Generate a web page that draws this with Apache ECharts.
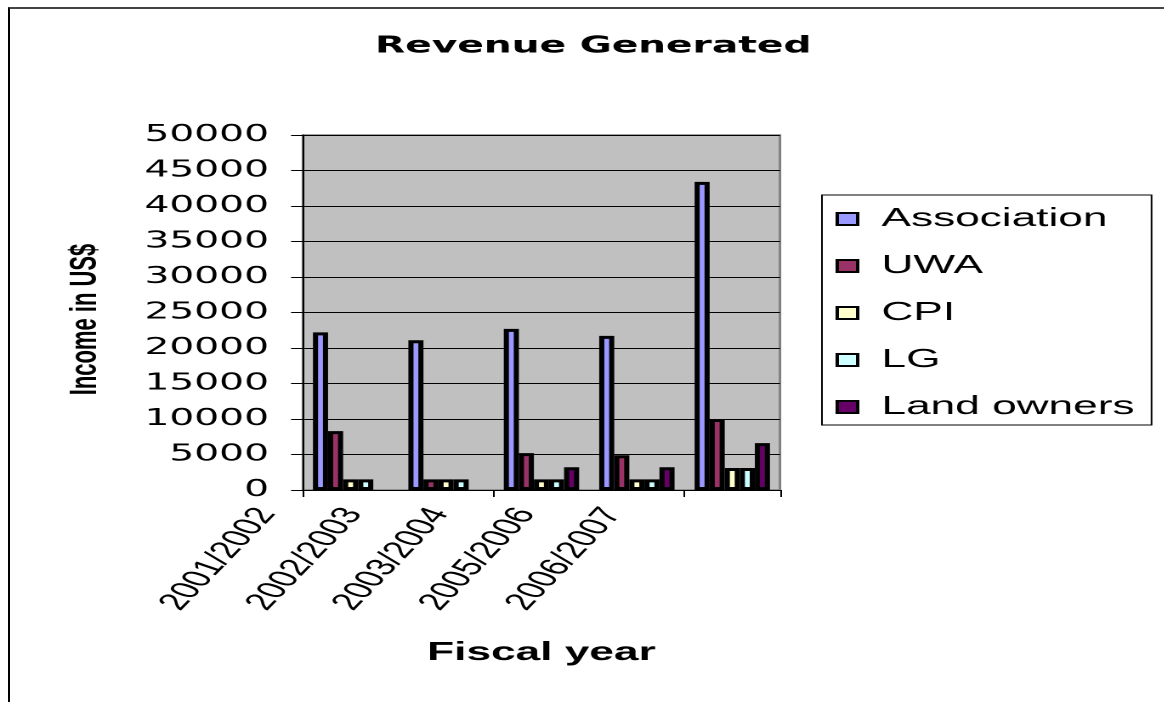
<!DOCTYPE html>
<html>
<head>
<meta charset="utf-8">
<script src="https://cdn.jsdelivr.net/npm/echarts@6/dist/echarts.min.js"></script>
<style>
  html, body { margin: 0; padding: 0; background: #fff; overflow: hidden; }
  #frame { position: absolute; left: 8px; top: 7px; width: 1200px; height: 800px;
           border-left: 2px solid #000; border-top: 2px solid #444; }
  /* the source picture is stretched sideways, so the chart is drawn narrow and widened */
  #main { position: absolute; left: 0; top: 0; width: 684.7px; height: 702px;
          transform: scaleX(1.7); transform-origin: 0 0; }
</style>
</head>
<body>
<div id="frame"></div>
<div id="main"></div>
<script>
var categories = ['2001/2002', '2002/2003', '2003/2004', '2005/2006', '2006/2007'];
var seriesNames = ['Association', 'UWA', 'CPI', 'LG', 'Land owners'];
var association = [22200, 21100, 22700, 21700, 43400];
var uwa = [8300, 1500, 5200, 4900, 10000];
var cpi = [1500, 1500, 1500, 1500, 3100];
var lg = [1500, 1500, 1500, 1500, 3100];
var landOwners = [null, null, 3200, 3200, 6600];
var yMin = 0, yMax = 50000, yStep = 5000;

var colors = ['#9999ff', '#993366', '#ffffcc', '#ccffff', '#660066'];
var values = [association, uwa, cpi, lg, landOwners];

var myChart = echarts.init(document.getElementById('main'), null, { devicePixelRatio: 2 });

myChart.setOption({
  backgroundColor: 'transparent',
  animation: false,
  title: {
    text: 'Revenue Generated',
    left: 349,
    top: 35,
    padding: 0,
    textAlign: 'center',
    textStyle: { fontFamily: 'DejaVu Sans', fontWeight: 'bold', fontSize: 23, color: '#000' }
  },
  legend: {
    orient: 'vertical',
    left: 483.5,
    top: 195,
    padding: [11, 10, 5, 8],
    itemWidth: 12,
    itemHeight: 12,
    itemGap: 21,
    borderColor: '#000',
    borderWidth: 1,
    icon: 'rect',
    textStyle: { fontFamily: 'Liberation Sans', fontSize: 26, color: '#000', padding: [0, 0, 0, 9] },
    data: seriesNames
  },
  grid: [
    { left: 178.2, width: 280.6, top: 135, height: 355, show: true,
      backgroundColor: '#c0c0c0', borderColor: '#808080', borderWidth: 1.5 },
    // label row only, its bands sit a little left of the bars as in the source
    { left: 131.4, width: 254.5, top: 135, height: 355 }
  ],
  xAxis: [
    {
      type: 'category',
      gridIndex: 0,
      data: categories,
      axisLine: { lineStyle: { color: '#000', width: 1 } },
      axisTick: { show: true, length: 7, lineStyle: { color: '#000' } },
      axisLabel: { show: false },
      name: 'Fiscal year',
      nameLocation: 'middle',
      nameGap: 150,
      nameTextStyle: { fontFamily: 'Liberation Sans', fontWeight: 'bold', fontSize: 26, color: '#000' }
    },
    {
      type: 'category',
      gridIndex: 1,
      data: categories,
      axisLine: { show: false },
      axisTick: { show: false },
      axisLabel: {
        interval: 0,
        rotate: 60,
        margin: 20,
        fontFamily: 'Liberation Sans',
        fontSize: 24,
        color: '#000'
      }
    }
  ],
  yAxis: [
    {
      type: 'value',
      gridIndex: 0,
      min: yMin,
      max: yMax,
      interval: yStep,
      axisLine: { show: true, lineStyle: { color: '#000', width: 1 } },
      axisTick: { show: true, length: 7, lineStyle: { color: '#000' } },
      splitLine: { lineStyle: { color: '#000', width: 1 } },
      axisLabel: {
        margin: 20, fontFamily: 'DejaVu Sans', fontSize: 23, color: '#000',
        formatter: function (v) { return String(v); }
      },
      name: 'Income in US$',
      nameLocation: 'middle',
      nameGap: 117,
      nameTextStyle: { fontFamily: 'Liberation Sans', fontWeight: 'bold', fontSize: 22, color: '#000',
                       padding: [0, 14, 0, 0] }
    },
    { type: 'value', gridIndex: 1, show: false }
  ],
  series: seriesNames.map(function (name, i) {
    return {
      name: name,
      type: 'bar',
      xAxisIndex: 0,
      yAxisIndex: 0,
      data: values[i],
      barGap: '0%',
      barCategoryGap: '21%',
      itemStyle: { color: colors[i], borderColor: '#000', borderWidth: 3 }
    };
  })
});
</script>
</body>
</html>
